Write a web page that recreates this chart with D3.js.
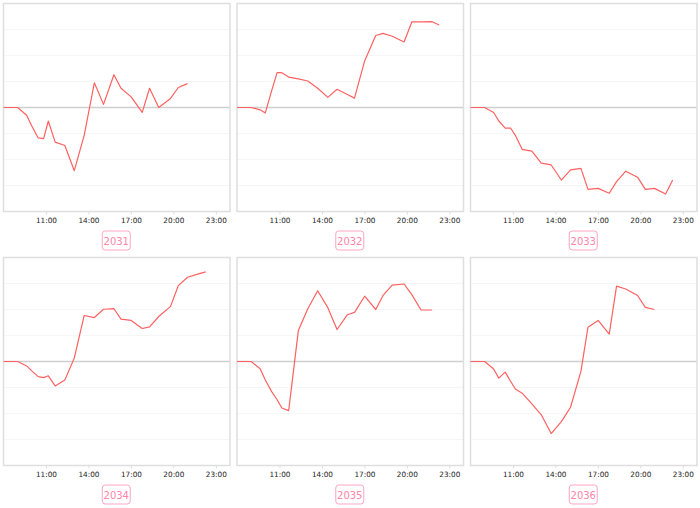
<!DOCTYPE html>
<html><head><meta charset="utf-8">
<script src="https://cdn.jsdelivr.net/npm/d3@7"></script>
<style>html,body{margin:0;padding:0;background:#fff;}svg{display:block;}</style>
</head><body><svg id="chart" width="700" height="508"></svg>
<script>
const years = ["2031","2032","2033","2034","2035","2036"];
const times = ["08:00","09:00","09:38","10:00","10:27","10:50","11:10","11:39","12:20","13:00","13:42","14:25","15:04","15:48","16:18","17:01","17:48","18:19","18:58","19:48","20:21","21:00","21:47","22:17"];
const v2031 = [0,0,-0.30,-0.71,-1.17,-1.20,-0.52,-1.33,-1.46,-2.43,-1.07,0.95,0.12,1.26,0.74,0.41,-0.19,0.74,0,0.35,0.77,0.92];
const v2032 = [0,0,-0.09,-0.21,0.65,1.34,1.34,1.17,1.10,1.02,0.74,0.39,0.70,0.50,0.36,1.79,2.77,2.85,2.74,2.52,3.29,3.29,3.30,3.17];
const v2033 = [0,0,-0.19,-0.52,-0.79,-0.79,-1.07,-1.61,-1.68,-2.14,-2.21,-2.79,-2.40,-2.34,-3.15,-3.11,-3.30,-2.85,-2.45,-2.68,-3.15,-3.11,-3.33,-2.79];
const v2034 = [0,0,-0.17,-0.36,-0.58,-0.62,-0.55,-0.94,-0.71,0.13,1.77,1.69,2.01,2.03,1.63,1.58,1.27,1.33,1.73,2.12,2.92,3.24,3.37,3.45];
const v2035 = [0,0,-0.28,-0.71,-1.16,-1.47,-1.79,-1.89,1.19,2.03,2.72,2.07,1.23,1.80,1.89,2.51,2.00,2.54,2.94,2.98,2.57,1.98,1.98];
const v2036 = [0,0,-0.29,-0.64,-0.41,-0.76,-1.06,-1.22,-1.63,-2.05,-2.77,-2.31,-1.76,-0.38,1.32,1.58,1.05,2.90,2.79,2.54,2.08,2.00];
const seriesValues = [v2031,v2032,v2033,v2034,v2035,v2036];
const tickLabels = ["11:00","14:00","17:00","20:00","23:00"];
const yDomain = [-4,4];
const gridValues = [-3,-2,-1,1,2,3];

const parse = d3.timeParse("%H:%M");
const fmt = d3.timeFormat("%H:%M");
const svg = d3.select("#chart");
const W = 226.5, H = 208, colStep = 233.5, rowStep = 254, left0 = 3.5, top0 = 3.5;

years.forEach((yr, i) => {
  const c = i % 3, r = Math.floor(i / 3);
  const px = left0 + c * colStep, py = top0 + r * rowStep;
  const g = svg.append("g").attr("transform", `translate(${px},${py})`);
  const x = d3.scaleTime().domain([parse("08:00"), new Date(parse("23:00").getTime() + 3600000)]).range([0, W]);
  const y = d3.scaleLinear().domain(yDomain).range([H, 0]);

  g.append("g").selectAll("line").data(gridValues).join("line")
    .attr("x1", 0).attr("x2", W).attr("y1", d => y(d)).attr("y2", d => y(d))
    .attr("stroke", "#f6f6f6").attr("stroke-width", 1);

  g.append("line").attr("x1", 0).attr("x2", W).attr("y1", y(0)).attr("y2", y(0))
    .attr("stroke", "#cfcfcf").attr("stroke-width", 1.5);

  const ax = d3.axisBottom(x).tickValues(tickLabels.map(parse)).tickFormat(fmt).tickSize(3).tickPadding(3);
  const axg = g.append("g").attr("transform", `translate(0,${H})`).call(ax);
  axg.select(".domain").remove();
  axg.selectAll(".tick line").attr("stroke", "#ddd");
  axg.selectAll(".tick text").attr("fill", "#222").attr("font-size", "7.3px").attr("font-family", "'DejaVu Sans', sans-serif");

  g.append("rect").attr("x", 0).attr("y", 0).attr("width", W).attr("height", H)
    .attr("fill", "none").attr("stroke", "#dedede").attr("stroke-width", 1.5);

  const vals = seriesValues[i];
  const data = vals.map((v, k) => ({t: parse(times[k]), v}));
  g.append("path").datum(data)
    .attr("fill", "none").attr("stroke", "#ff6161").attr("stroke-width", 1.2)
    .attr("stroke-linejoin", "round")
    .attr("d", d3.line().x(d => x(d.t)).y(d => y(d.v)));

  const lb = g.append("g").attr("transform", `translate(${W/2 - 0.5},${H + 19.5})`);
  lb.append("rect").attr("x", -14).attr("y", 0).attr("width", 28).attr("height", 19).attr("rx", 3)
    .attr("fill", "#fff").attr("stroke", "#ffa6c2").attr("stroke-width", 1);
  lb.append("text").attr("x", 0).attr("y", 13.5).attr("text-anchor", "middle")
    .attr("font-size", "10px").attr("font-family", "'DejaVu Sans', sans-serif").attr("fill", "#ff85a8").text(yr);
});
</script></body></html>
